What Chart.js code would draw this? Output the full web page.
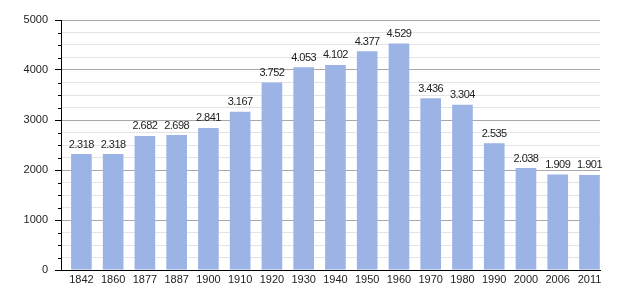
<!DOCTYPE html>
<html>
<head>
<meta charset="utf-8">
<script src="https://cdn.jsdelivr.net/npm/chart.js@4/dist/chart.umd.min.js"></script>
<style>
  html, body { margin: 0; padding: 0; background: #fff; }
  #wrap { width: 620px; height: 300px; }
</style>
</head>
<body>
<div id="wrap"><canvas id="grafico"></canvas></div>
<script>
// Datos
const anios = ['1842', '1860', '1877', '1887', '1900', '1910', '1920', '1930', '1940',
               '1950', '1960', '1970', '1980', '1990', '2000', '2006', '2011'];
const habitantes = [2318, 2318, 2682, 2698, 2841, 3167, 3752, 4053, 4102,
                    4377, 4529, 3436, 3304, 2535, 2038, 1909, 1901];
const ticksY = [0, 1000, 2000, 3000, 4000, 5000];

const fuente = 'Liberation Sans, Arial, Helvetica, sans-serif';

// Formato con punto como separador de miles
function formatoMiles(n) {
    return String(n).replace(/\B(?=(\d{3})+(?!\d))/g, '.');
}

// Etiquetas encima de las barras y marcas menores del eje Y
const pluginEtiquetas = {
    id: 'etiquetas',
    afterDatasetsDraw(chart) {
        const ctx = chart.ctx;
        const meta = chart.getDatasetMeta(0);
        ctx.save();
        ctx.font = '11px ' + fuente;
        ctx.letterSpacing = '-0.5px';
        ctx.fillStyle = '#222';
        ctx.textAlign = 'center';
        ctx.textBaseline = 'bottom';
        meta.data.forEach((barra, i) => {
            ctx.fillText(formatoMiles(habitantes[i]), barra.x, barra.y - 4);
        });
        ctx.letterSpacing = '0px';

        // marcas menores
        const y = chart.scales.y;
        ctx.strokeStyle = '#000';
        ctx.lineWidth = 1;
        for (let v = 0; v <= 5000; v += 250) {
            if (ticksY.includes(v)) continue;
            const py = Math.round(y.getPixelForValue(v)) + 0.5;
            ctx.beginPath();
            ctx.moveTo(y.right - 3, py);
            ctx.lineTo(y.right, py);
            ctx.stroke();
        }
        ctx.restore();
    }
};

new Chart(document.getElementById('grafico'), {
    type: 'bar',
    data: {
        datasets: [{
            data: habitantes.map((v, i) => ({ x: i, y: v })),
            backgroundColor: '#9cb3e6',
            borderWidth: 0,
            barPercentage: 0.65,
            categoryPercentage: 1.0
        }]
    },
    options: {
        responsive: true,
        maintainAspectRatio: false,
        animation: false,
        layout: { padding: { top: 20, right: 20, left: 0, bottom: 0 } },
        plugins: {
            legend: { display: false },
            tooltip: { enabled: false }
        },
        scales: {
            x: {
                type: 'linear',
                offset: false,
                min: -0.642,
                max: 16.331,
                grid: { display: false, drawTicks: false },
                border: { color: '#000', width: 1 },
                afterBuildTicks(scale) {
                    scale.ticks = anios.map((a, i) => ({ value: i }));
                },
                ticks: {
                    color: '#222',
                    font: { family: fuente, size: 11 },
                    padding: 3,
                    maxRotation: 0,
                    autoSkip: false,
                    callback: v => anios[v]
                },
                afterFit(scale) { scale.height = 30; }
            },
            y: {
                min: 0,
                max: 5000,
                border: { color: '#000', width: 1 },
                grid: {
                    color: c => (c.tick && c.tick.value % 1000 === 0) ? '#a8a8a8' : '#e4e4e4',
                    tickColor: c => (c.tick && c.tick.value % 1000 === 0) ? '#000' : 'rgba(0,0,0,0)',
                    tickLength: 6
                },
                ticks: {
                    stepSize: 250,
                    autoSkip: false,
                    color: '#222',
                    font: { family: fuente, size: 11 },
                    padding: 7,
                    callback: v => (v % 1000 === 0) ? String(v) : ''
                },
                afterFit(scale) { scale.width = 61; }
            }
        }
    },
    plugins: [pluginEtiquetas]
});
</script>
</body>
</html>
